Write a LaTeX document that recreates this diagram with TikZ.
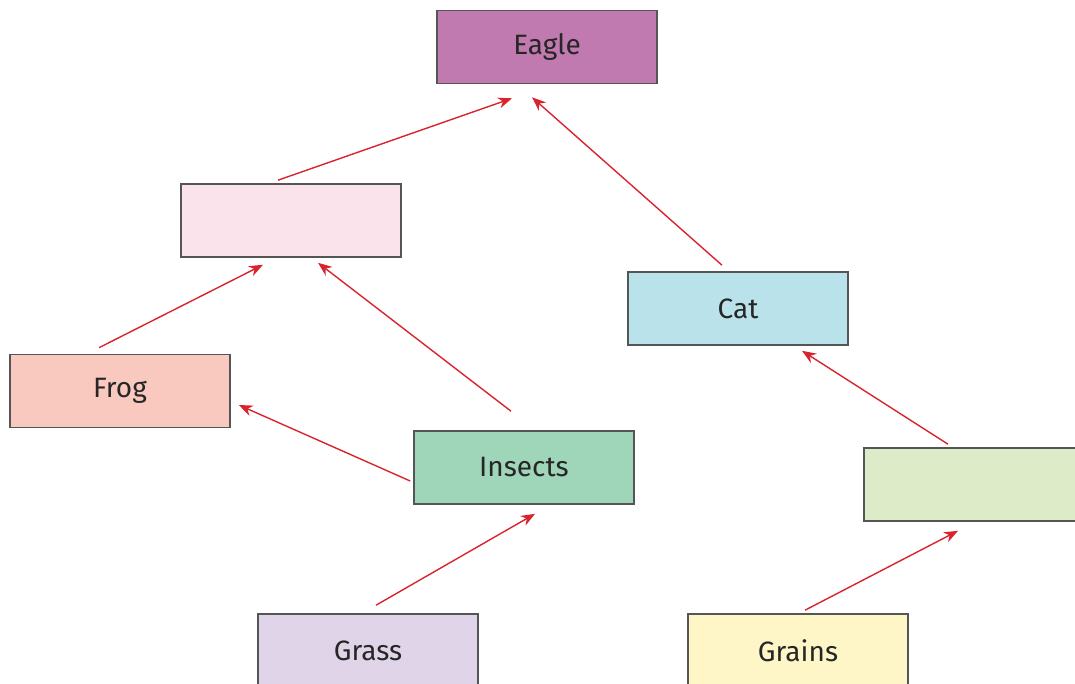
\documentclass[tikz,border=0pt]{standalone}
\usepackage{fontspec}
\setmainfont{Fira Sans}
\usetikzlibrary{arrows.meta}
\definecolor{cEagle}{HTML}{C17AB0}
\definecolor{cPink}{HTML}{FBE3EC}
\definecolor{cFrog}{HTML}{F9C8BE}
\definecolor{cIns}{HTML}{9FD5B9}
\definecolor{cCat}{HTML}{BAE2EA}
\definecolor{cGreen}{HTML}{DEEBC9}
\definecolor{cGrass}{HTML}{E0D5E8}
\definecolor{cGrains}{HTML}{FFF6C8}
\definecolor{cBorder}{HTML}{555555}
\definecolor{cArrow}{HTML}{D9232D}
\begin{document}
\begin{tikzpicture}[x=1pt,y=-1pt,
  box/.style={draw=cBorder,line width=1.6pt,minimum width=220pt,minimum height=73pt,inner sep=0pt,font=\fontsize{28}{32}\selectfont,text=black!85},
  link/.style={draw=cArrow,line width=1.4pt,-{Stealth[length=14pt,width=11pt]}}]
\useasboundingbox (0,0) rectangle (1075,683);
\clip (0,0) rectangle (1075,683);
\node[box,fill=cEagle] (eagle) at (547,47) {Eagle};
\node[box,fill=cPink] (pink) at (291,220.5) {};
\node[box,fill=cFrog] (frog) at (120,391) {Frog};
\node[box,fill=cIns] (ins) at (524,467.5) {Insects};
\node[box,fill=cCat] (cat) at (738,308.5) {Cat};
\node[box,fill=cGreen] (green) at (974,484.5) {};
\node[box,fill=cGrass] (grass) at (368,650.5) {Grass};
\node[box,fill=cGrains] (grains) at (798,650.5) {Grains};
\draw[link] ([xshift=-13pt,yshift=3pt]pink.north) -- ([xshift=-35pt,yshift=-14pt]eagle.south);
\draw[link] ([xshift=-16pt,yshift=6pt]cat.north) -- ([xshift=-15pt,yshift=-13pt]eagle.south);
\draw[link] ([xshift=-21pt,yshift=6pt]frog.north) -- ([xshift=-28pt,yshift=-7pt]pink.south);
\draw[link] ([xshift=-13pt,yshift=19pt]ins.north) -- ([xshift=27pt,yshift=-5pt]pink.south);
\draw[link] ([xshift=-3pt,yshift=-13.5pt]ins.west) -- ([xshift=8pt,yshift=-14pt]frog.east);
\draw[link] ([xshift=8pt,yshift=8pt]grass.north) -- ([xshift=11pt,yshift=-9pt]ins.south);
\draw[link] ([xshift=7pt,yshift=3pt]grains.north) -- ([xshift=-16pt,yshift=-9pt]green.south);
\draw[link] ([xshift=-26pt,yshift=3pt]green.north) -- ([xshift=64pt,yshift=-5pt]cat.south);
\end{tikzpicture}
\end{document}
